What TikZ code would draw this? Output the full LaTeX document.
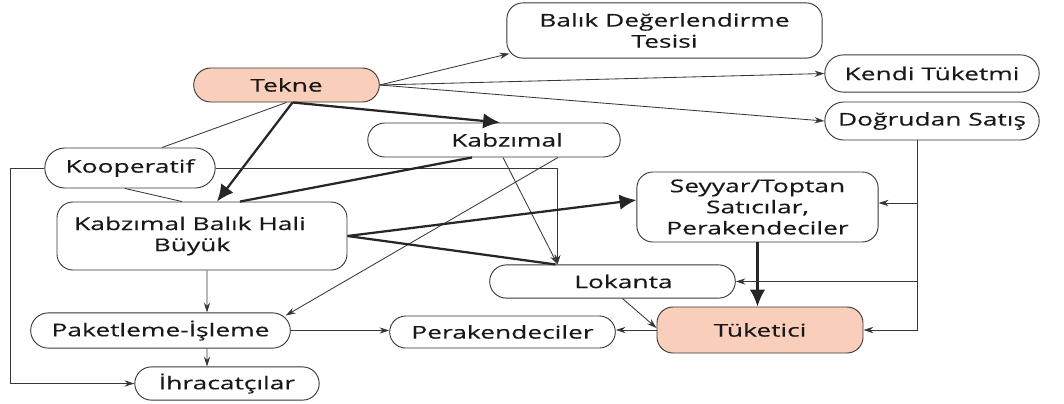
\documentclass[tikz,border=0pt]{standalone}
\usepackage{fontspec}
\setmainfont{Open Sans}[FakeStretch=1.5, FakeBold=0.4]
\usepackage{tikz}
\usetikzlibrary{shapes, arrows.meta, positioning, calc}
\definecolor{salmon}{RGB}{249,206,186}
\definecolor{linegray}{RGB}{55,55,55}
\tikzset{
    pill/.style={rounded rectangle, draw=linegray, line width=0.65pt, fill=white, align=center, text=black!90, font=\fontsize{12.5}{15}\selectfont, minimum height=0.85cm, inner sep=2pt},
    block/.style={rectangle, draw=linegray, line width=0.65pt, rounded corners=0.4cm, fill=white, align=center, text=black!90, font=\fontsize{12.5}{15}\selectfont},
    link/.style={draw=linegray, line width=0.6pt},
    arrow/.style={link, -{Stealth[length=7pt,width=4.5pt]}},
    boldline/.style={draw=black!85, line width=1.6pt},
    boldarrow/.style={boldline, -{Latex[length=12pt,width=11pt]}}
}
\begin{document}
\begin{tikzpicture}[x=0.025cm, y=-0.025cm]
        \useasboundingbox (0,0) rectangle (1064,403);

        % Source
        \node (tekne) [pill, fill=salmon, minimum width=4.78cm] at (286.5,85) {Tekne};

        % Top right
        \node (tesis) [block, minimum width=7.88cm, minimum height=1.38cm] at (664.5,30.5) {Balık Değerlendirme\\Tesisi};
        \node (kendi) [pill, minimum width=5.5cm, minimum height=0.93cm] at (932,73.5) {Kendi Tüketmi};
        \node (dogrudan) [pill, minimum width=5.5cm, minimum height=0.95cm] at (932,121) {Doğrudan Satış};

        % Middle
        \node (kabzimal) [pill, minimum width=6.45cm] at (494,140) {\hspace*{0.65cm}Kabzımal};
        \node (kooperatif) [pill, minimum width=4.4cm, minimum height=1.0cm] at (130,168) {Kooperatif};
        \node (hal) [block, minimum width=7.25cm, minimum height=1.7cm] at (202,236) {Kabzımal Balık Hali\hspace*{0.6cm}\\Büyük\hspace*{0.5cm}};
        \node (seyyar) [block, minimum width=6.03cm, minimum height=1.75cm] at (757.5,207) {Seyyar/Toptan\\Satıcılar,\\Perakendeciler};
        \node (lokanta) [pill, minimum width=6.28cm, minimum height=0.83cm] at (612.5,281.5) {\hspace*{0.55cm}Lokanta};

        % Bottom
        \node (paket) [pill, minimum width=6.63cm, minimum height=0.88cm] at (160.5,330.5) {Paketleme-İşleme};
        \node (perak) [pill, minimum width=5.78cm, minimum height=0.8cm] at (502.5,332) {Perakendeciler};
        \node (tuketici) [block, fill=salmon, minimum width=5.15cm, minimum height=1.15cm] at (760,330) {Tüketici};
        \node (ihrac) [pill, minimum width=4.75cm, minimum height=0.83cm] at (227,383.5) {İhracatçılar};

        % From Tekne
        \draw [arrow] (tekne.east) -- ($(tesis.south west)+(3,-5)$);
        \draw [arrow] (tekne.east) -- (kendi.west);
        \draw [arrow] (tekne.east) -- (dogrudan.west);
        \draw [boldarrow] ($(tekne.south)+(6,0)$) -- ($(kabzimal.north)+(6,0)$);
        \draw [boldarrow] ($(tekne.south)+(6,0)$) -- ($(hal.north)+(15,0)$);
        \draw [link] (tekne.south) -- ($(kooperatif.north)+(32,0)$);

        % From Kooperatif
        \draw [link] ($(kooperatif.south)+(-5,0)$) -- ($(hal.north)+(-20,0)$);
        \draw [arrow] (kooperatif.east) -| ($(lokanta.north)+(-55,0)$);
        \draw [arrow] (kooperatif.west) -- ++(-34,0) |- (ihrac.west);

        % From Kabzimal
        \draw [boldline] ($(kabzimal.south)+(-22,0)$) -- ($(hal.north)+(38,0)$);
        \draw [arrow] ($(kabzimal.south)+(9,0)$) -- ($(lokanta.north)+(-55,0)$);
        \draw [arrow] ($(kabzimal.south)+(64,0)$) -- ($(paket.east)+(-5,-15)$);

        % From Kabzimal Balik Hali
        \draw [boldarrow] (hal.east) -- ($(seyyar.west)+(0,-7)$);
        \draw [boldline] (hal.east) -- ($(lokanta.north)+(-57,0)$);
        \draw [arrow] ($(hal.south)+(5,0)$) -- ($(paket.north)+(46.5,0)$);

        % Bottom row
        \draw [arrow] ($(paket.south)+(46.5,0)$) -- ($(ihrac.north)+(-20,0)$);
        \draw [arrow] (paket.east) -- (paket.east -| perak.west);
        \draw [arrow] (tuketici.west) -- (tuketici.west -| perak.east);
        \draw [arrow] ($(lokanta.south)+(10,0)$) -- ($(tuketici.west)+(0,-2)$);
        \draw [boldarrow] (seyyar.south) -- (seyyar.south |- tuketici.north);

        % From Dogrudan Satis
        \draw [arrow] ($(dogrudan.south)+(-15,0)$) |- ($(seyyar.east)+(0,-4)$);
        \draw [arrow] ($(dogrudan.south)+(-15,0)$) |- (lokanta.east);
        \draw [arrow] ($(dogrudan.south)+(-15,0)$) |- (tuketici.east);
    \end{tikzpicture}
\end{document}
